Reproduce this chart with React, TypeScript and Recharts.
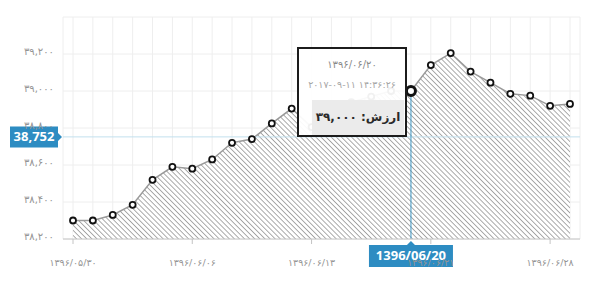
import React from "react";
import { AreaChart, Area, XAxis, YAxis, CartesianGrid, Tooltip, ReferenceLine } from "recharts";

// daily closing values, one per trading session
const prices = [
  38300, 38300, 38330, 38385, 38520, 38590, 38580, 38630, 38720, 38740,
  38825, 38905, 38805, 38875, 38940, 38970, 39000, 39000, 39140, 39205,
  39105, 39045, 38985, 38975, 38920, 38930,
];
const xTicks = [0, 6, 12, 18, 24];
const xTickLabels = ["1396/05/30", "1396/06/06", "1396/06/13", "1396/06/21", "1396/06/28"];
const yTicks = [38200, 38400, 38600, 38800, 39000, 39200, 39400];

const focusIndex = 17;
const focusDate = "1396/06/20";
const focusStamp = "2017-09-11 14:36:26";
const cursorPrice = 38752;

const BLUE = "#2d8cc2";
const FA_FONT = "'DejaVu Sans', sans-serif";

const data = prices.map((v, i) => ({ i, v }));
const gridTicks = data.map((d) => d.i);

const fa = (s: string) => s.replace(/\d/g, (d) => "۰۱۲۳۴۵۶۷۸۹"[+d]);
const faNum = (n: number) => fa(n.toLocaleString("en-US"));

const YTick = ({ x, y, payload }: any) => {
  if (payload.value === 39400) return null;
  return (
    <text x={x - 1} y={y - 2} textAnchor="end" dominantBaseline="middle" fontSize={10} fill="#959595" fontFamily={FA_FONT}>
      {faNum(payload.value)}
    </text>
  );
};

const XTick = ({ x, y, payload }: any) => {
  const k = xTicks.indexOf(payload.value);
  return (
    <text x={x} y={y + 17} textAnchor="middle" dominantBaseline="middle" fontSize={9.5} fill="#959595" fontFamily={FA_FONT}>
      {fa(xTickLabels[k] ?? "")}
    </text>
  );
};

const renderDot = (p: any) => {
  const { cx, cy, index } = p;
  const on = index === focusIndex;
  return (
    <circle
      key={`dot-${index}`}
      cx={cx}
      cy={cy}
      r={on ? 4.5 : 3}
      fill="#fff"
      stroke="#111"
      strokeWidth={on ? 3 : 1.8}
    />
  );
};

// blue date flag hanging under the vertical cursor
const DateFlag = ({ viewBox }: any) => {
  const cx = viewBox.x;
  const top = viewBox.y + viewBox.height + 2;
  return (
    <g>
      <path
        d={`M${cx - 42},${top + 4} H${cx - 4} L${cx},${top} L${cx + 4},${top + 4} H${cx + 42} V${top + 26} H${cx - 42} Z`}
        fill={BLUE}
      />
      <text x={cx} y={top + 15.5} textAnchor="middle" dominantBaseline="middle" fontSize={13} fontWeight={700} fill="#fff" fontFamily="'Open Sans', sans-serif">
        {focusDate}
      </text>
    </g>
  );
};

// blue value flag on the left of the horizontal cursor
const ValueFlag = ({ viewBox }: any) => {
  const x0 = viewBox.x;
  const cy = viewBox.y;
  return (
    <g>
      <path
        d={`M${x0 - 53},${cy - 10.5} H${x0 - 5} V${cy - 4} L${x0 - 1},${cy} L${x0 - 5},${cy + 4} V${cy + 10.5} H${x0 - 53} Z`}
        fill={BLUE}
      />
      <text x={x0 - 29} y={cy + 0.5} textAnchor="middle" dominantBaseline="middle" fontSize={13} fontWeight={700} fill="#fff" fontFamily="'Open Sans', sans-serif">
        {cursorPrice.toLocaleString("en-US")}
      </text>
    </g>
  );
};

const Bubble = ({ payload }: any) => {
  const v = payload && payload.length ? payload[0].value : prices[focusIndex];
  return (
    <div
      style={{
        width: 110,
        height: 90,
        boxSizing: "border-box",
        border: "2px solid #1c1c1c",
        background: "rgba(255,255,255,0.94)",
        fontFamily: FA_FONT,
        position: "relative",
      }}
    >
      <div style={{ position: "absolute", top: 10, left: 0, right: 0, textAlign: "center", fontSize: 10, color: "#8a8a8a" }}>
        {fa(focusDate)}
      </div>
      <div dir="ltr" style={{ position: "absolute", top: 30, left: 0, right: 0, textAlign: "center", fontSize: 9.5, color: "#a6a6a6", whiteSpace: "nowrap", letterSpacing: -0.3 }}>
        {fa(focusStamp)}
      </div>
      <div
        dir="rtl"
        style={{
          position: "absolute",
          top: 51,
          left: 13,
          right: 1,
          height: 35,
          background: "rgba(234,234,234,0.95)",
          textAlign: "center",
          lineHeight: "35px",
          fontSize: 12,
          fontWeight: 700,
          color: "#2a2a2a",
        }}
      >
        ارزش: {faNum(v)}
      </div>
    </div>
  );
};

export default function App() {
  return (
    <div style={{ position: "absolute", left: 0, top: 0, width: 600, height: 281, background: "#fff" }}>
      <AreaChart width={600} height={281} data={data} margin={{ top: 17, right: 20, left: 8, bottom: 12 }}>
        <defs>
          <pattern id="hatch" patternUnits="userSpaceOnUse" width={3.6} height={3.6} patternTransform="rotate(-45)">
            <rect width={3.6} height={3.6} fill="#fff" />
            <line x1={0} y1={0} x2={0} y2={3.6} stroke="#7d7d7d" strokeWidth={1.3} />
          </pattern>
        </defs>
        <CartesianGrid stroke="#eeeeee" xAxisId="grid" />
        {/* hidden axis that only places the vertical grid lines at every session */}
        <XAxis
          xAxisId="grid"
          dataKey="i"
          type="number"
          domain={[0, prices.length - 1]}
          ticks={gridTicks}
          interval={0}
          padding={{ left: 10, right: 10 }}
          hide
        />
        <XAxis
          dataKey="i"
          type="number"
          domain={[0, prices.length - 1]}
          ticks={xTicks}
          interval={0}
          padding={{ left: 10, right: 10 }}
          height={30}
          axisLine={{ stroke: "#c4c4c4" }}
          tickLine={{ stroke: "#c4c4c4" }}
          tickSize={5}
          tick={<XTick />}
        />
        <YAxis
          type="number"
          domain={[38200, 39400]}
          ticks={yTicks}
          interval={0}
          width={55}
          axisLine={false}
          tickLine={false}
          tick={<YTick />}
        />
        <Area
          type="linear"
          dataKey="v"
          stroke="#9a9a9a"
          strokeWidth={1.5}
          fill="url(#hatch)"
          fillOpacity={1}
          baseValue={38200}
          dot={renderDot}
          activeDot={false}
          isAnimationActive={false}
        />
        <ReferenceLine y={cursorPrice} stroke="#c3e0ee" strokeWidth={1} label={<ValueFlag />} />
        <ReferenceLine
          segment={[
            { x: focusIndex, y: prices[focusIndex] },
            { x: focusIndex, y: 38200 },
          ]}
          stroke="#3f97c4"
          strokeWidth={1}
          label={<DateFlag />}
        />
        <Tooltip
          defaultIndex={focusIndex}
          active
          cursor={false}
          isAnimationActive={false}
          position={{ x: 297, y: 47 }}
          content={<Bubble />}
          wrapperStyle={{ outline: "none" }}
        />
      </AreaChart>
    </div>
  );
}
